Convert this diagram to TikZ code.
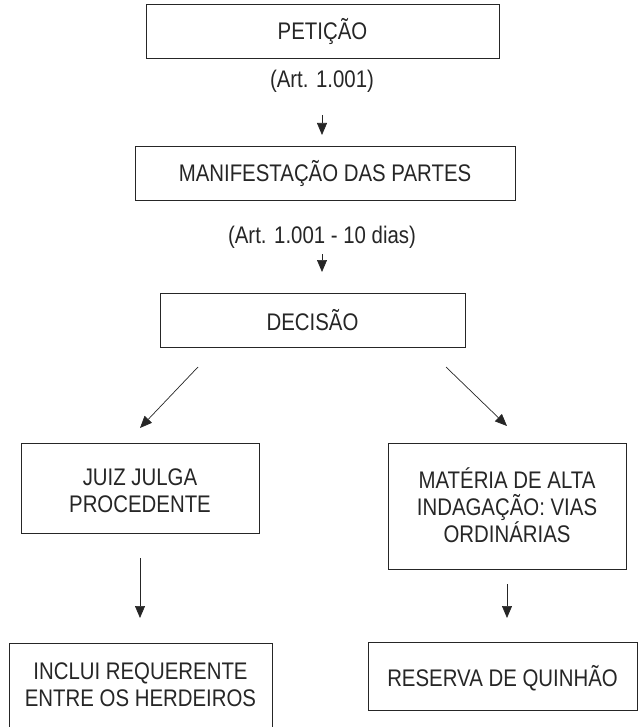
\documentclass[tikz,border=0pt]{standalone}
\usepackage{fontspec}
\setmainfont{Liberation Sans}[FakeStretch=0.85]
\usetikzlibrary{arrows.meta}
\begin{document}
\begin{tikzpicture}[x=1pt,y=-1pt,
  box/.style={draw=black!85,line width=1pt,inner sep=0pt},
  lbl/.style={font=\fontsize{24}{27}\selectfont,text=black!85,align=center,inner sep=0pt},
  arr/.style={draw=black!85,line width=0.7pt,-{Triangle[width=10pt,length=12pt]}}]
\useasboundingbox (0,0) rectangle (639,727);
% boxes
\node[box,minimum width=353pt,minimum height=54pt] (pet) at (322.5,32) {};
\node[lbl] (pett) at (pet.center) {PETIÇÃO};
\node[lbl] (art1) at (322,81) {(Art. 1.001)};
\node[box,minimum width=380pt,minimum height=54pt] (man) at (325,174) {};
\node[lbl] (mant) at (man.center) {MANIFESTAÇÃO DAS PARTES};
\node[lbl] (art2) at (322,237) {(Art. 1.001 - 10 dias)};
\node[box,minimum width=305pt,minimum height=54pt] (dec) at (312.5,320) {};
\node[lbl] (dect) at (dec.center) {DECISÃO};
\node[box,minimum width=238pt,minimum height=90pt] (juiz) at (140,488) {};
\node[lbl] (juizt) at (140,491) {JUIZ JULGA\\PROCEDENTE};
\node[box,minimum width=238pt,minimum height=126pt] (mat) at (507,506) {};
\node[lbl] (matt) at (507,505.5) {MATÉRIA DE ALTA\\INDAGAÇÃO: VIAS\\ORDINÁRIAS};
\node[box,minimum width=263pt,minimum height=100pt] (inc) at (140.5,693) {};
\node[lbl] (inct) at (140.5,684.5) {INCLUI REQUERENTE\\ENTRE OS HERDEIROS};
\node[box,minimum width=269pt,minimum height=68pt] (res) at (502.5,676) {};
\node[lbl] (rest) at (502.5,678) {RESERVA DE QUINHÃO};
% arrow coordinates
\coordinate (a1s) at (322,115); \coordinate (a1e) at (322,135);
\coordinate (a2s) at (322,254); \coordinate (a2e) at (322,272);
\coordinate (a3s) at (198,367); \coordinate (a3e) at (140,428);
\coordinate (a4s) at (446,367); \coordinate (a4e) at (507,426);
\coordinate (a5s) at (140,558); \coordinate (a5e) at (140,618);
\coordinate (a6s) at (507,584); \coordinate (a6e) at (507,618);
\draw[arr] (a1s) -- (a1e);
\draw[arr] (a2s) -- (a2e);
\draw[arr] (a3s) -- (a3e);
\draw[arr] (a4s) -- (a4e);
\draw[arr] (a5s) -- (a5e);
\draw[arr] (a6s) -- (a6e);
\end{tikzpicture}
\end{document}
